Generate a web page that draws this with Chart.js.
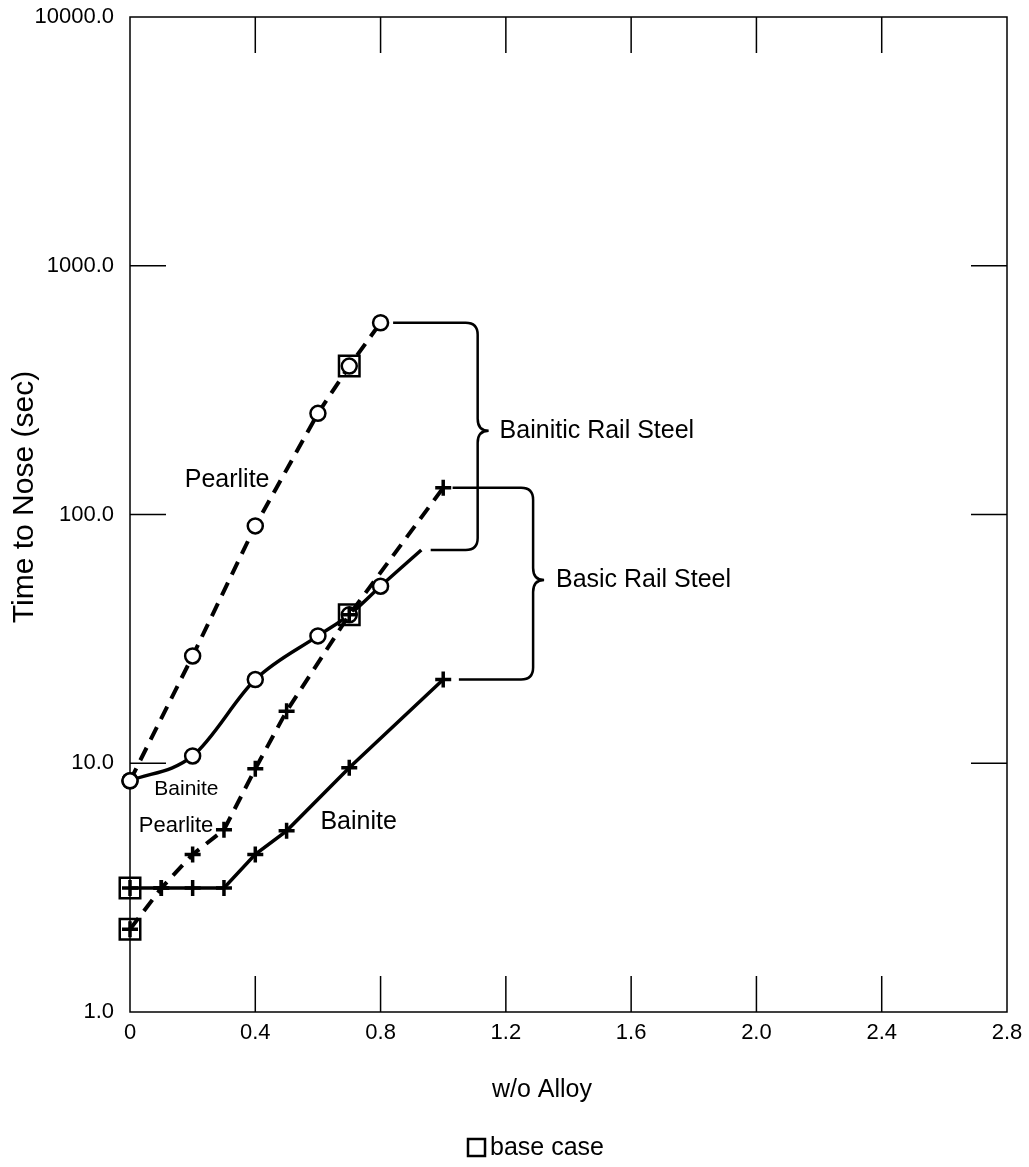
<!DOCTYPE html>
<html>
<head>
<meta charset="utf-8">
<script src="https://cdn.jsdelivr.net/npm/chart.js@4/dist/chart.umd.min.js"></script>
<style>
  body { margin: 0; background: #fff; }
  canvas { display: block; }
</style>
</head>
<body>
<canvas id="noseChart" width="1029" height="1167"></canvas>
<script>
// Axis ticks
const xTickValues = [0, 0.4, 0.8, 1.2, 1.6, 2.0, 2.4, 2.8];
const yTickValues = [1, 10, 100, 1000, 10000];

// Bainitic rail steel (circles)
const bainiticPearliteX = [0, 0.2, 0.4, 0.6, 0.7, 0.8];
const bainiticPearliteY = [8.5, 27, 90, 255, 395, 590];
const bainiticBainiteX = [0, 0.2, 0.4, 0.6, 0.7, 0.8, 0.93];
const bainiticBainiteY = [8.5, 10.7, 21.7, 32.5, 39.5, 51.5, 72];

// Basic rail steel (plus signs)
const basicPearliteX = [0, 0.1, 0.2, 0.3, 0.4, 0.5, 0.7, 1.0];
const basicPearliteY = [2.15, 3.15, 4.3, 5.4, 9.5, 16.2, 39.5, 128];
const basicBainiteX = [0, 0.1, 0.2, 0.3, 0.4, 0.5, 0.7, 1.0];
const basicBainiteY = [3.15, 3.15, 3.15, 3.15, 4.3, 5.35, 9.6, 21.7];

// Base case markers
const baseCaseX = [0.7, 0.7, 0, 0];
const baseCaseY = [395, 39.5, 3.15, 2.15];

const FONT = "'Liberation Sans', Arial, Helvetica, sans-serif";
Chart.defaults.font.family = FONT;
Chart.defaults.color = '#000';

const pts = (xs, ys) => xs.map((x, i) => ({ x, y: ys[i] }));

// text labels placed in data units
const curveLabels = [
    { text: 'Pearlite', x: 0.31, y: 138, size: 25, align: 'center' },
    { text: 'Bainite', x: 0.18, y: 7.9, size: 21, align: 'center' },
    { text: 'Pearlite', x: 0.147, y: 5.6, size: 22, align: 'center' },
    { text: 'Bainite', x: 0.73, y: 5.8, size: 25, align: 'center' },
    { text: 'Bainitic Rail Steel', x: 1.18, y: 217, size: 25, align: 'left' },
    { text: 'Basic Rail Steel', x: 1.36, y: 54.5, size: 25, align: 'left' },
];

// curly brackets grouping the curves (data units)
const brackets = [
    { xTop: 0.84, xBottom: 0.96, xSpine: 1.11, yTop: 590, yBottom: 72, yTip: 217 },
    { xTop: 1.03, xBottom: 1.05, xSpine: 1.287, yTop: 128, yBottom: 21.7, yTip: 54.5 },
];

const annotate = {
    id: 'annotate',
    afterDatasetsDraw(chart) {
        const { ctx, scales: { x, y } } = chart;
        ctx.save();
        ctx.fillStyle = '#000';
        ctx.textBaseline = 'middle';
        curveLabels.forEach(l => {
            ctx.font = `${l.size}px ${FONT}`;
            ctx.textAlign = l.align;
            ctx.fillText(l.text, x.getPixelForValue(l.x), y.getPixelForValue(l.y));
        });

        ctx.strokeStyle = '#000';
        ctx.lineWidth = 2.5;
        const r = 12, tip = 11;
        brackets.forEach(b => {
            const xs = x.getPixelForValue(b.xSpine);
            const yt = y.getPixelForValue(b.yTop);
            const yb = y.getPixelForValue(b.yBottom);
            const ym = y.getPixelForValue(b.yTip);
            ctx.beginPath();
            ctx.moveTo(x.getPixelForValue(b.xTop), yt);
            ctx.lineTo(xs - r, yt);
            ctx.quadraticCurveTo(xs, yt, xs, yt + r);
            ctx.lineTo(xs, ym - r);
            ctx.quadraticCurveTo(xs, ym, xs + tip, ym);
            ctx.quadraticCurveTo(xs, ym, xs, ym + r);
            ctx.lineTo(xs, yb - r);
            ctx.quadraticCurveTo(xs, yb, xs - r, yb);
            ctx.lineTo(x.getPixelForValue(b.xBottom), yb);
            ctx.stroke();
        });
        ctx.restore();
    }
};

// box frame with inward ticks, axis titles and the legend note
const frame = {
    id: 'frame',
    beforeDatasetsDraw(chart) {
        const { ctx, chartArea: a, scales: { x, y } } = chart;
        const len = 36;
        ctx.save();
        ctx.strokeStyle = '#000';
        ctx.lineWidth = 1.5;
        ctx.strokeRect(a.left, a.top, a.right - a.left, a.bottom - a.top);
        ctx.beginPath();
        xTickValues.slice(1, -1).forEach(v => {
            const px = x.getPixelForValue(v);
            ctx.moveTo(px, a.bottom); ctx.lineTo(px, a.bottom - len);
            ctx.moveTo(px, a.top); ctx.lineTo(px, a.top + len);
        });
        yTickValues.slice(1, -1).forEach(v => {
            const py = y.getPixelForValue(v);
            ctx.moveTo(a.left, py); ctx.lineTo(a.left + len, py);
            ctx.moveTo(a.right, py); ctx.lineTo(a.right - len, py);
        });
        ctx.stroke();
        ctx.restore();
    },
    afterDraw(chart) {
        const { ctx } = chart;
        ctx.save();
        ctx.fillStyle = '#000';
        ctx.strokeStyle = '#000';
        ctx.textBaseline = 'middle';
        ctx.textAlign = 'center';

        ctx.save();
        ctx.translate(25, 497);
        ctx.rotate(-Math.PI / 2);
        ctx.font = `30px ${FONT}`;
        ctx.fillText('Time to Nose (sec)', 0, 0);
        ctx.restore();

        ctx.font = `25px ${FONT}`;
        ctx.fillText('w/o Alloy', 542, 1090);

        ctx.lineWidth = 2.5;
        ctx.strokeRect(468, 1139, 17, 17);
        ctx.textAlign = 'left';
        ctx.fillText('base case', 490, 1148);
        ctx.restore();
    }
};

const dashed = [14, 9];
// invisible tick marks, only used to keep labels clear of the axes
const hiddenTicks = (len) => ({
    display: true,
    drawOnChartArea: false,
    drawTicks: true,
    tickLength: len,
    color: 'rgba(0,0,0,0)'
});

new Chart(document.getElementById('noseChart'), {
    type: 'line',
    data: {
        datasets: [
            {
                label: 'Basic Pearlite',
                data: pts(basicPearliteX, basicPearliteY),
                borderColor: '#000',
                borderWidth: 4,
                borderDash: dashed,
                tension: 0,
                pointStyle: 'cross',
                pointRadius: 8,
                pointBorderWidth: 3.5,
                pointBorderColor: '#000',
                clip: false,
            },
            {
                label: 'Basic Bainite',
                data: pts(basicBainiteX, basicBainiteY),
                borderColor: '#000',
                borderWidth: 3.5,
                tension: 0,
                pointStyle: 'cross',
                pointRadius: 8,
                pointBorderWidth: 3.5,
                pointBorderColor: '#000',
                clip: false,
            },
            {
                label: 'Bainitic Pearlite',
                data: pts(bainiticPearliteX, bainiticPearliteY),
                borderColor: '#000',
                borderWidth: 4,
                borderDash: dashed,
                tension: 0,
                pointStyle: 'circle',
                pointRadius: 7.5,
                pointBorderWidth: 2.5,
                pointBorderColor: '#000',
                pointBackgroundColor: '#fff',
                clip: false,
            },
            {
                label: 'Bainitic Bainite',
                data: pts(bainiticBainiteX, bainiticBainiteY),
                borderColor: '#000',
                borderWidth: 3.5,
                cubicInterpolationMode: 'monotone',
                pointStyle: 'circle',
                pointRadius: ctx => ctx.dataIndex === bainiticBainiteX.length - 1 ? 0 : 7.5,
                pointBorderWidth: 2.5,
                pointBorderColor: '#000',
                pointBackgroundColor: '#fff',
                clip: false,
            },
            {
                label: 'base case',
                data: pts(baseCaseX, baseCaseY),
                showLine: false,
                pointStyle: 'rect',
                pointRadius: 14.5,
                pointBorderWidth: 2.5,
                pointBorderColor: '#000',
                pointBackgroundColor: 'rgba(0,0,0,0)',
                clip: false,
            },
        ]
    },
    options: {
        responsive: false,
        animation: false,
        layout: { padding: { top: 17, right: 22 } },
        plugins: {
            legend: { display: false },
            tooltip: { enabled: false }
        },
        scales: {
            x: {
                type: 'linear',
                min: 0,
                max: 2.8,
                grid: hiddenTicks(8),
                border: { display: false },
                afterBuildTicks: scale => { scale.ticks = xTickValues.map(v => ({ value: v })); },
                afterFit: scale => { scale.height = 155; },
                ticks: {
                    autoSkip: false,
                    maxRotation: 0,
                    padding: 0,
                    font: { size: 22 },
                    callback: v => v === 0 ? '0' : v.toFixed(1)
                }
            },
            y: {
                type: 'logarithmic',
                min: 1,
                max: 10000,
                grid: hiddenTicks(16),
                border: { display: false },
                afterBuildTicks: scale => { scale.ticks = yTickValues.map(v => ({ value: v })); },
                afterFit: scale => { scale.width = 130; },
                ticks: {
                    autoSkip: false,
                    padding: 0,
                    font: { size: 22 },
                    callback: v => Number(v).toFixed(1)
                }
            }
        }
    },
    plugins: [annotate, frame]
});
</script>
</body>
</html>
